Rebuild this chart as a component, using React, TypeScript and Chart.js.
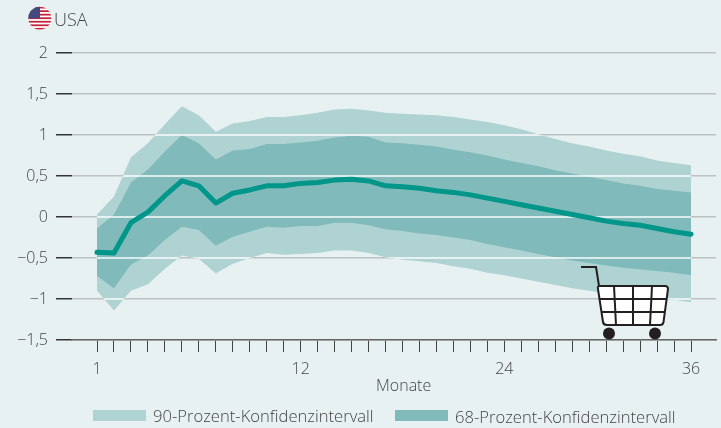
import React, { useEffect, useRef } from "react";
import { Chart, registerables } from "chart.js";

Chart.register(...registerables);

const months = [1,2,3,4,5,6,7,8,9,10,11,12,13,14,15,16,17,18,19,20,21,22,23,24,25,26,27,28,29,30,31,32,33,34,35,36];
const labeledPositions = [1, 13, 25, 36];
const labeledTexts = ["1", "12", "24", "36"];
const center = [-0.43,-0.44,-0.07,0.06,0.26,0.44,0.38,0.17,0.29,0.33,0.38,0.38,0.41,0.42,0.45,0.46,0.44,0.38,0.37,0.35,0.32,0.30,0.27,0.23,0.19,0.15,0.11,0.07,0.03,-0.01,-0.05,-0.08,-0.10,-0.14,-0.18,-0.21];
const upper90 = [0.03,0.25,0.73,0.9,1.13,1.35,1.24,1.04,1.14,1.17,1.22,1.22,1.24,1.27,1.31,1.32,1.3,1.27,1.26,1.25,1.24,1.22,1.19,1.16,1.12,1.07,1.01,0.95,0.9,0.86,0.81,0.77,0.74,0.69,0.66,0.63];
const lower90 = [-0.9,-1.14,-0.9,-0.82,-0.63,-0.47,-0.51,-0.69,-0.57,-0.5,-0.44,-0.46,-0.45,-0.44,-0.41,-0.41,-0.44,-0.49,-0.52,-0.54,-0.56,-0.6,-0.63,-0.68,-0.71,-0.75,-0.79,-0.83,-0.87,-0.9,-0.93,-0.95,-0.97,-0.99,-1.01,-1.04];
const upper68 = [-0.14,0.03,0.42,0.58,0.8,1.0,0.9,0.7,0.81,0.83,0.89,0.89,0.91,0.93,0.97,0.99,0.98,0.91,0.9,0.88,0.86,0.82,0.79,0.75,0.7,0.66,0.62,0.57,0.53,0.49,0.45,0.41,0.38,0.34,0.32,0.3];
const lower68 = [-0.72,-0.87,-0.58,-0.47,-0.28,-0.12,-0.16,-0.35,-0.24,-0.18,-0.12,-0.13,-0.11,-0.11,-0.07,-0.07,-0.1,-0.15,-0.17,-0.2,-0.22,-0.25,-0.28,-0.33,-0.37,-0.41,-0.45,-0.49,-0.53,-0.56,-0.59,-0.62,-0.64,-0.66,-0.68,-0.71];
const yTicks = [2, 1.5, 1, 0.5, 0, -0.5, -1, -1.5];
const yTickLabels = ["2", "1,5", "1", "0,5", "0", "\u22120,5", "\u22121", "\u22121,5"];
const legendLabels = ["90-Prozent-Konfidenzintervall", "68-Prozent-Konfidenzintervall"];

const FONT = '"Open Sans", sans-serif';
const BG = "#e8f1f2";
const C90 = "#afd3d3";
const C68 = "#80baba";
const LINE = "#00968a";
const TEXT = "#444444";

const toPts = (ys: number[]) => ys.map((y, i) => ({ x: months[i], y }));

const whiteGrid = {
  id: "whiteGrid",
  beforeDatasetDraw(chart: any, args: any) {
    if (args.index !== 0) return;
    const up = chart.getDatasetMeta(3).data;
    const lo = chart.getDatasetMeta(4).data;
    const { ctx, scales } = chart;
    ctx.save();
    ctx.beginPath();
    up.forEach((p: any, i: number) => (i ? ctx.lineTo(p.x, p.y) : ctx.moveTo(p.x, p.y)));
    [...lo].reverse().forEach((p: any) => ctx.lineTo(p.x, p.y));
    ctx.closePath();
    ctx.clip();
    ctx.strokeStyle = "rgba(255,255,255,0.95)";
    ctx.lineWidth = 1.5;
    yTicks.forEach((v) => {
      const y = Math.round(scales.y.getPixelForValue(v));
      ctx.beginPath();
      ctx.moveTo(chart.chartArea.left, y);
      ctx.lineTo(chart.chartArea.right, y);
      ctx.stroke();
    });
    ctx.restore();
  },
};

function Flag() {
  const reds = [0, 1, 2, 3, 4, 5, 6];
  return (
    <svg width={26} height={26} style={{ position: "absolute", left: 27, top: 6 }} viewBox="0 0 26 26">
      <defs>
        <clipPath id="fc"><circle cx={12.8} cy={12.2} r={11.5} /></clipPath>
      </defs>
      <g clipPath="url(#fc)">
        <rect width={26} height={26} fill="#ffffff" />
        {reds.map((i) => <rect key={i} x={0} y={0.7 + i * 3.54} width={26} height={1.77} fill="#c2243c" />)}
        <rect x={0} y={0} width={13} height={12.4} fill="#444a80" />
      </g>
    </svg>
  );
}

function Cart() {
  const vs: [number, number, number, number][] = [
    [614, 286, 616, 325], [633, 286, 633, 325], [652, 286, 650, 325],
  ];
  return (
    <svg width={721} height={428} style={{ position: "absolute", left: 0, top: 0, pointerEvents: "none" }}>
      <path d="M581 267 H596 L599 286" fill="none" stroke="#231f20" strokeWidth={2} />
      <path d="M600 286 Q597 286 598 289 L603 322 Q603.5 325 607 325 L660 325 Q663 325 663.5 322 L668 289 Q668 286 665 286 Z" fill="#fff" stroke="#231f20" strokeWidth={2} />
      {vs.map((v, i) => <line key={i} x1={v[0]} y1={v[1]} x2={v[2]} y2={v[3]} stroke="#231f20" strokeWidth={2} />)}
      <line x1={599} y1={299} x2={667} y2={299} stroke="#231f20" strokeWidth={2} />
      <line x1={601} y1={312} x2={665} y2={312} stroke="#231f20" strokeWidth={2} />
      <circle cx={609} cy={333.5} r={6} fill="#231f20" />
      <circle cx={655} cy={333.5} r={6} fill="#231f20" />
    </svg>
  );
}

export default function App() {
  const ref = useRef<HTMLCanvasElement>(null);
  useEffect(() => {
    document.body.style.margin = "0";
    document.body.style.background = BG;
    const common = { pointRadius: 0, borderWidth: 0, tension: 0, borderColor: "transparent" };
    const chart = new Chart(ref.current!, {
      type: "line",
      data: {
        datasets: [
          { label: "Mitte", data: toPts(center), borderColor: LINE, borderWidth: 5, pointRadius: 0, tension: 0, fill: false, borderCapStyle: "round", borderJoinStyle: "round" },
          { ...common, label: legendLabels[1], data: toPts(upper68), backgroundColor: C68, fill: { target: 2 } },
          { ...common, label: "68 unten", data: toPts(lower68), fill: false },
          { ...common, label: legendLabels[0], data: toPts(upper90), backgroundColor: C90, fill: { target: 4 } },
          { ...common, label: "90 unten", data: toPts(lower90), fill: false },
        ],
      } as any,
      plugins: [whiteGrid],
      options: {
        animation: false,
        responsive: false,
        layout: { padding: { top: 53, right: 5, bottom: 0, left: 0 } },
        plugins: { legend: { display: false }, tooltip: { enabled: false } },
        clip: false,
        scales: {
          x: {
            type: "linear",
            min: -0.473,
            max: 37.47,
            afterBuildTicks: (s: any) => { s.ticks = months.map((value) => ({ value })); },
            afterFit: (s: any) => { s.height = 88; },
            grid: { drawOnChartArea: false, drawTicks: true, tickLength: 12, tickColor: "#444", tickWidth: 1 },
            border: { color: "#666", width: 1.5 },
            ticks: {
              autoSkip: false, maxRotation: 0, padding: 8, color: TEXT,
              font: { family: FONT, size: 16, weight: 300 },
              callback: (v: any) => {
                const i = labeledPositions.indexOf(v);
                return i >= 0 ? labeledTexts[i] : "";
              },
            },
          },
          y: {
            type: "linear",
            min: -1.5,
            max: 2,
            afterBuildTicks: (s: any) => { s.ticks = yTicks.map((value) => ({ value })); },
            afterFit: (s: any) => { s.width = 72; },
            grid: { color: "#bcc2c3", lineWidth: 1.5, tickLength: 16, tickColor: "#333", tickWidth: 1.5 },
            border: { display: false },
            ticks: {
              padding: 8, color: TEXT,
              font: { family: FONT, size: 16, weight: 300 },
              callback: (v: any) => yTickLabels[yTicks.indexOf(v)],
            },
          },
        },
      } as any,
    });
    return () => chart.destroy();
  }, []);

  const label: React.CSSProperties = { position: "absolute", fontFamily: FONT, fontWeight: 300, color: TEXT, whiteSpace: "nowrap", lineHeight: "20px" };
  return (
    <div style={{ position: "relative", width: 721, height: 428, background: BG, overflow: "hidden" }}>
      <canvas ref={ref} width={721} height={428} style={{ position: "absolute", left: 0, top: 0 }} />
      <Flag />
      <Cart />
      <div style={{ ...label, left: 54, top: 9, fontSize: 18 }}>USA</div>
      <div style={{ ...label, left: 376, top: 375, fontSize: 16 }}>Monate</div>
      <div style={{ position: "absolute", left: 93, top: 410, width: 53, height: 11, background: C90 }} />
      <div style={{ ...label, left: 153, top: 406, fontSize: 16.6 }}>{legendLabels[0]}</div>
      <div style={{ position: "absolute", left: 395, top: 410, width: 53, height: 11, background: C68 }} />
      <div style={{ ...label, left: 455, top: 407, fontSize: 16.6 }}>{legendLabels[1]}</div>
    </div>
  );
}
